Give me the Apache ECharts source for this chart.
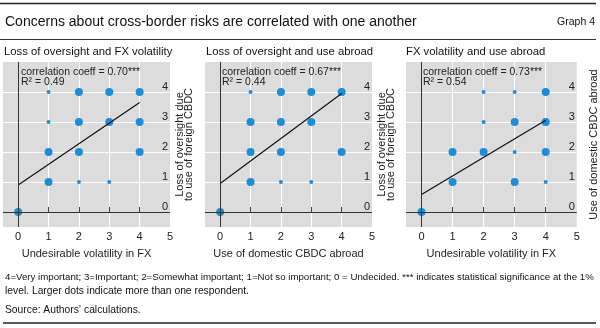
<!DOCTYPE html>
<html>
<head>
<meta charset="utf-8">
<script src="https://cdn.jsdelivr.net/npm/echarts@6/dist/echarts.min.js"></script>
<style>
  html, body { margin: 0; padding: 0; background: #fff; }
  #chart { width: 600px; height: 328px; }
</style>
</head>
<body>
<div id="chart"></div>
<script>
// Survey scores: 4=Very important ... 0=Undecided
const scoreTicks = [0, 1, 2, 3, 4, 5];
const gridTicks = [1, 2, 3, 4];
const yLabelTicks = [0, 1, 2, 3, 4];

// [x score, y score, respondents (1 = single, 2 = more than one)]
const fxVsOversight = [
  [0, 0, 2], [1, 4, 1], [2, 4, 2], [3, 4, 2], [4, 4, 2],
  [1, 3, 1], [2, 3, 2], [3, 3, 2], [4, 3, 2],
  [1, 2, 2], [2, 2, 2], [4, 2, 2],
  [1, 1, 2], [2, 1, 1], [3, 1, 1]
];
const abroadVsOversight = [
  [0, 0, 2], [1, 4, 1], [2, 4, 2], [3, 4, 2], [4, 4, 2],
  [1, 3, 2], [2, 3, 2], [3, 3, 2],
  [1, 2, 2], [2, 2, 2], [4, 2, 2],
  [1, 1, 2], [2, 1, 1], [3, 1, 1]
];
const fxVsAbroad = [
  [0, 0, 2], [2, 4, 1], [3, 4, 1], [4, 4, 2],
  [2, 3, 1], [3, 3, 2], [4, 3, 2],
  [1, 2, 2], [2, 2, 2], [3, 2, 1], [4, 2, 2],
  [1, 1, 2], [3, 1, 2], [4, 1, 1]
];

// Fitted regression lines (end points)
const fitFxOversight = [[0, 0.9], [4, 3.65]];
const fitAbroadOversight = [[0, 0.95], [4, 3.95]];
const fitFxAbroad = [[0, 0.58], [4, 3.06]];

const panelTitles = [
  'Loss of oversight and FX volatility',
  'Loss of oversight and use abroad',
  'FX volatility and use abroad'
];
const xNames = ['Undesirable volatility in FX', 'Use of domestic CBDC abroad', 'Undesirable volatility in FX'];
const yNames = ['Loss of oversight due\nto use of foreign CBDC', 'Loss of oversight due\nto use of foreign CBDC', 'Use of domestic CBDC abroad'];
const corrCoeffs = ['0.70', '0.67', '0.73'];
const rSquared = ['0.49', '0.44', '0.54'];

const FONT = 'Liberation Sans';
const BLUE = '#1f8dd6';
const panelData = [fxVsOversight, abroadVsOversight, fxVsAbroad];
const fitData = [fitFxOversight, fitAbroadOversight, fitFxAbroad];

const grids = [
  { left: 3, top: 62, width: 167, height: 165 },
  { left: 205, top: 62, width: 167, height: 165 },
  { left: 406, top: 62, width: 172, height: 165 }
];

const option = {
  animation: false,
  textStyle: { fontFamily: FONT },
  grid: grids.map(g => Object.assign({ show: true, backgroundColor: '#dcdcdc', borderWidth: 0 }, g)),
  xAxis: grids.map((g, i) => ({
    gridIndex: i,
    type: 'value',
    min: -0.5,
    max: 5,
    name: xNames[i],
    nameLocation: 'middle',
    nameGap: 21,
    nameTextStyle: { fontSize: 11, color: '#222', fontFamily: FONT },
    axisLine: { show: false },
    axisTick: { show: true, inside: true, length: 5, customValues: gridTicks, lineStyle: { color: '#444' } },
    axisLabel: { customValues: scoreTicks, margin: 4, fontSize: 11, color: '#222', fontFamily: FONT },
    splitLine: { show: true, lineStyle: { color: '#ffffff', width: 1 } }
  })),
  yAxis: grids.map((g, i) => ({
    gridIndex: i,
    type: 'value',
    position: 'right',
    min: -0.5,
    max: 5,
    name: yNames[i],
    nameLocation: 'middle',
    nameRotate: 90,
    nameGap: i === 2 ? 12 : 5,
    nameTextStyle: { fontSize: 11, color: '#222', fontFamily: FONT, lineHeight: 9.5 },
    axisLine: { show: false },
    axisTick: { show: false, customValues: gridTicks },
    axisLabel: { customValues: yLabelTicks, inside: true, margin: 2, verticalAlign: 'bottom', fontSize: 11, color: '#222', fontFamily: FONT },
    splitLine: { show: true, lineStyle: { color: '#ffffff', width: 1 } }
  })),
  series: [].concat(...panelData.map((pts, i) => [
    {
      type: 'scatter',
      xAxisIndex: i,
      yAxisIndex: i,
      data: pts,
      symbolSize: v => (v[2] > 1 ? 8 : 4),
      itemStyle: { color: BLUE, opacity: 1 },
      markLine: {
        silent: true,
        symbol: 'none',
        label: { show: false },
        lineStyle: { color: '#333', width: 1, type: 'solid' },
        data: [{ xAxis: 0 }, { yAxis: 0 }]
      },
      z: 3
    },
    {
      type: 'line',
      xAxisIndex: i,
      yAxisIndex: i,
      data: fitData[i],
      showSymbol: false,
      lineStyle: { color: '#111', width: 1.2 },
      z: 4
    }
  ])),
  graphic: [
    { type: 'line', shape: { x1: 0, y1: 3.5, x2: 596, y2: 3.5 }, style: { stroke: '#222', lineWidth: 1.5 } },
    { type: 'line', shape: { x1: 0, y1: 39.5, x2: 596, y2: 39.5 }, style: { stroke: '#333', lineWidth: 1 } },
    { type: 'line', shape: { x1: 3, y1: 323, x2: 596, y2: 323 }, style: { stroke: '#222', lineWidth: 1.5 } },
    { type: 'text', x: 5, y: 22, style: { text: 'Concerns about cross-border risks are correlated with one another', fontSize: 14, fontFamily: FONT, fill: '#111', verticalAlign: 'middle' } },
    { type: 'text', x: 595, y: 22, style: { text: 'Graph 4', fontSize: 10.5, fontFamily: FONT, fill: '#111', align: 'right', verticalAlign: 'middle' } },
    ...panelTitles.map((t, i) => ({
      type: 'text', x: [4, 206, 406][i], y: 52,
      style: { text: t, fontSize: 11.3, fontFamily: FONT, fill: '#111', verticalAlign: 'middle' }
    })),
    ...corrCoeffs.map((c, i) => ({
      type: 'text', x: [21, 222, 423][i], y: 67, z: 10,
      style: { text: 'correlation coeff = ' + c + '***\nR² = ' + rSquared[i], fontSize: 10.5, lineHeight: 10, fontFamily: FONT, fill: '#222' }
    })),
    { type: 'text', x: 5, y: 277, style: { text: '4=Very important; 3=Important; 2=Somewhat important; 1=Not so important; 0 = Undecided. *** indicates statistical significance at the 1%', fontSize: 9.7, fontFamily: FONT, fill: '#111', verticalAlign: 'middle' } },
    { type: 'text', x: 5, y: 291, style: { text: 'level. Larger dots indicate more than one respondent.', fontSize: 10.3, fontFamily: FONT, fill: '#111', verticalAlign: 'middle' } },
    { type: 'text', x: 5, y: 310, style: { text: 'Source: Authors\u2019 calculations.', fontSize: 10.3, fontFamily: FONT, fill: '#111', verticalAlign: 'middle' } }
  ]
};

const chart = echarts.init(document.getElementById('chart'), null, { renderer: 'canvas' });
chart.setOption(option);
</script>
</body>
</html>
